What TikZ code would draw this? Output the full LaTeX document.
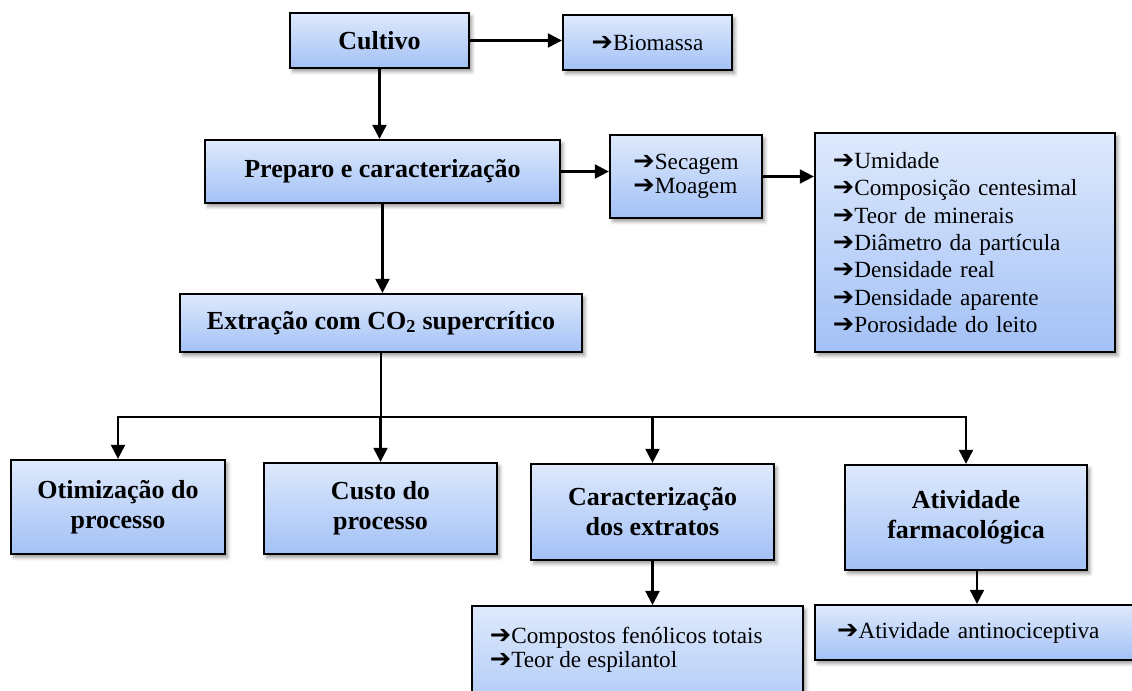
\documentclass[tikz,border=0pt]{standalone}
\usepackage{fontspec}
\setmainfont{Liberation Serif}
\newfontfamily\setafont{DejaVu Sans}[Scale=1.1]
\newcommand{\flecha}{{\setafont ➔}}
\usetikzlibrary{arrows.meta,shadows.blur}
\definecolor{topo}{HTML}{DEE9FC}
\definecolor{base}{HTML}{A3C1F6}
\begin{document}
\begin{tikzpicture}[x=0.025cm, y=-0.025cm,
		caixa/.style={draw, line width=1.6pt, top color=topo, bottom color=base, blur shadow={shadow xshift=2pt, shadow yshift=-2.5pt, shadow blur radius=2.5pt, shadow opacity=40}, inner sep=0pt, align=center, font=\bfseries\fontsize{18.5}{21.3}\selectfont},
		lista/.style={caixa, font=\fontsize{16.5}{19.5}\selectfont},
		seta/.style={line width=1.5pt, -{Triangle[length=10pt, width=10pt]}}]
				\useasboundingbox (0,0) rectangle (1132,691);
				\node[caixa, minimum width=4.475cm, minimum height=1.375cm] (cultivo) at (379.5,40.5) {Cultivo};
				\node[lista, minimum width=4.225cm, minimum height=1.375cm] (biomassa) at (647.5,42.5) {\flecha Biomassa};
				\node[caixa, minimum width=8.875cm, minimum height=1.575cm] (preparo) at (382.5,171.5) {Preparo e caracterização};
				\node[lista, minimum width=3.8cm, minimum height=2.075cm, align=left, font=\fontsize{16.5}{17}\selectfont] (secagem) at (686,176.5) {\flecha Secagem\\\flecha Moagem};
				\node[lista, minimum width=7.5cm, minimum height=5.475cm, text width=6.6cm, inner xsep=0.45cm, align=left] (analises) at (965,242.5) {\flecha Umidade\\\flecha Composição centesimal\\\flecha Teor de minerais\\\flecha Diâmetro da partícula\\\flecha Densidade real\\\flecha Densidade aparente\\\flecha Porosidade do leito};
				\node[caixa, minimum width=10.05cm, minimum height=1.45cm] (extracao) at (381,323) {Extração com CO\textsubscript{2} supercrítico};
				\node[caixa, minimum width=5.35cm, minimum height=2.35cm] (otimizacao) at (118,507) {Otimização do\\processo};
				\node[caixa, minimum width=5.825cm, minimum height=2.275cm] (custo) at (380.5,508.5) {Custo do\\processo};
				\node[caixa, minimum width=6.075cm, minimum height=2.4cm] (caracterizacao) at (652.5,512) {Caracterização\\dos extratos};
				\node[caixa, minimum width=6.05cm, minimum height=2.625cm] (atividade) at (966,517.5) {Atividade\\farmacológica};
				\node[lista, anchor=north, minimum width=8.275cm, inner xsep=0.45cm, inner ysep=0.525cm, font=\fontsize{16.5}{17}\selectfont] (compostos) at (637.5,605) {\parbox[t][2.2cm][t]{7.375cm}{\flecha Compostos fenólicos totais\\\flecha Teor de espilantol}};
				\node[lista, anchor=west, minimum width=8.5cm, minimum height=1.375cm, text width=7.4cm, inner xsep=0.55cm, align=left] (antinociceptiva) at (814,632.5) {\flecha Atividade antinociceptiva};
				\draw[seta] (cultivo.east) -- (cultivo.east -| biomassa.west);
				\draw[seta] (cultivo.south) -- (cultivo.south |- preparo.north);
				\draw[seta] (preparo.east) -- (preparo.east -| secagem.west);
				\draw[seta] (secagem.east) -- (secagem.east -| analises.west);
				\draw[seta] (preparo.south) -- (preparo.south |- extracao.north);
				\coordinate (barra) at (381,417);
				\draw[line width=1.5pt] (extracao.south) -- (barra);
				\draw[line width=1.5pt, line cap=rect] (otimizacao.north |- barra) -- (atividade.north |- barra);
				\foreach \n in {otimizacao, custo, caracterizacao, atividade} {
					\draw[seta] (\n.north |- barra) -- (\n.north);
				}
				\draw[seta] (caracterizacao.south) -- (caracterizacao.south |- compostos.north);
				\draw[seta] ([xshift=0.275cm]atividade.south) -- ([xshift=0.275cm]atividade.south |- antinociceptiva.north);
			\end{tikzpicture}
\end{document}
